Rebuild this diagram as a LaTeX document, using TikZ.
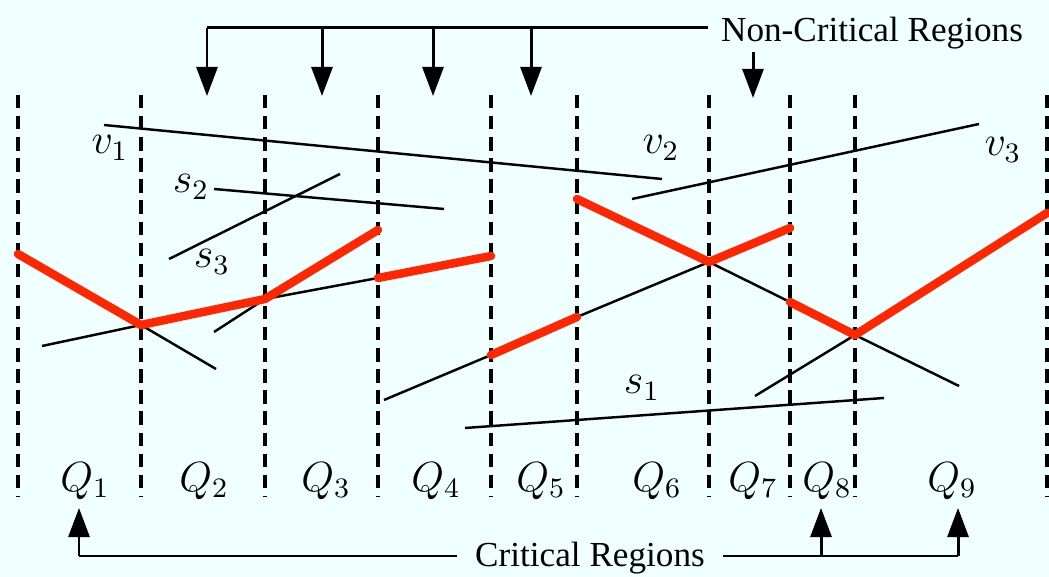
\documentclass[tikz,border=0pt]{standalone}
\usepackage[no-math]{fontspec}
\setmainfont{Liberation Serif}
\usetikzlibrary{arrows.meta}

\definecolor{bgcyan}{RGB}{240,255,255}
\definecolor{hotred}{RGB}{255,38,0}

\begin{document}
\begin{tikzpicture}[x=0.01cm, y=-0.01cm,
    region/.style={line width=0.9pt, dash pattern=on 3.8pt off 2.2pt},
    seg/.style={line width=0.7pt, black},
    crit/.style={line width=2.4pt, hotred, line cap=round, line join=round},
    bar/.style={line width=0.85pt},
    pointer/.style={line width=0.85pt, -{Triangle[length=8.3pt, width=6pt]}},
    mlabel/.style={font=\fontsize{11.6}{14}\selectfont},
    every node/.style={font=\fontsize{10}{12}\selectfont}]

    % Background
    \fill[bgcyan] (0,0) rectangle (1049,577);
    \useasboundingbox (0,0) rectangle (1049,577);

    % Dashed region boundaries
    \foreach \x in {18,141,265,378,491,577,709,790,855,1047}
        \draw[region] (\x,95) -- (\x,497);

    % Crossing points
    \coordinate (p1) at (141,325);
    \coordinate (p2) at (265,299);
    \coordinate (p3) at (709,262);
    \coordinate (p4) at (855,335);

    % Segments
    \draw[seg] (104,125) -- (662,179);
    \draw[seg] (632,199) -- (979,124);
    \draw[seg] (214,189) -- (444,209);
    \draw[seg] (169,259) -- (340,174);
    \draw[seg] (465,428) -- (884,398);
    \draw[seg] (18,254) -- (p1) -- (216,369);
    \draw[seg] (42,346) -- (p1) -- (p2) -- (378,278) -- (491,256);
    \draw[seg] (214,332) -- (p2) -- (378,230);
    \draw[seg] (384,400) -- (491,355) -- (577,317) -- (p3) -- (790,228);
    \draw[seg] (577,199) -- (p3) -- (790,302) -- (p4) -- (959,386);
    \draw[seg] (755,396) -- (p4) -- (1047,213);

    % Lower envelope pieces
    \draw[crit] (18,254) -- (p1) -- (p2) -- (378,230);
    \draw[crit] (378,278) -- (491,256);
    \draw[crit] (491,355) -- (577,317);
    \draw[crit] (577,199) -- (p3) -- (790,228);
    \draw[crit] (790,302) -- (p4) -- (1047,213);

    % Segment labels
    \node[mlabel] (lv1) at (110,148) {$v_1$};
    \node[mlabel] (lv2) at (661,148) {$v_2$};
    \node[mlabel] (lv3) at (1003,150) {$v_3$};
    \node[mlabel] (ls1) at (642,388) {$s_1$};
    \node[mlabel] (ls2) at (191,187) {$s_2$};
    \node[mlabel] (ls3) at (212,262) {$s_3$};

    % Region labels
    \foreach \i/\x in {1/85,2/204,3/326,4/436,5/541,6/657,7/753,8/827,9/952}
        \node[mlabel] (q\i) at (\x,481) {$Q_{\i}$};

    % Non-critical regions
    \node[anchor=base, inner xsep=3.5pt] (ncr) at (872,42) {Non-Critical Regions};
    \coordinate (nbar) at (207,28);
    \draw[bar] (ncr.west |- nbar) -- (nbar);
    \foreach \x in {207,322,433,531}
        \draw[pointer] (\x,28) -- (\x,96);
    \draw[pointer] (753,52) -- (753,98);

    % Critical regions
    \node[anchor=base, inner xsep=5pt] (cr) at (590,567) {Critical Regions};
    \coordinate (cleft) at (79,556);
    \coordinate (cright) at (958,556);
    \draw[bar] (cr.west |- cleft) -- (cleft);
    \draw[bar] (cr.east |- cright) -- (cright);
    \draw[pointer] (cleft) -- (79,508);
    \draw[pointer] (821,556) -- (821,508);
    \draw[pointer] (cright) -- (958,508);
\end{tikzpicture}
\end{document}
